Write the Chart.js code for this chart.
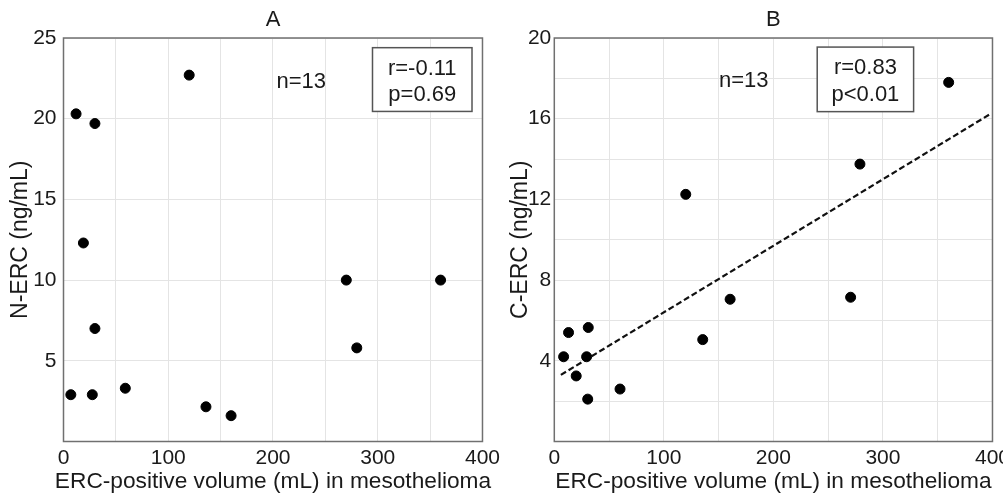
<!DOCTYPE html>
<html>
<head>
<meta charset="utf-8">
<script src="https://cdn.jsdelivr.net/npm/chart.js@4.4.1/dist/chart.umd.min.js"></script>
<style>
  html, body { margin: 0; padding: 0; background: #fff; overflow: hidden; }
  .panel { position: absolute; top: 0; height: 497px; }
  #panelA { left: 0; width: 504px; }
  #panelB { left: 500px; width: 514px; }
</style>
</head>
<body>
<div class="panel" id="panelA"><canvas id="chartA"></canvas></div>
<div class="panel" id="panelB"><canvas id="chartB"></canvas></div>
<script>
// Panel A: N-ERC vs ERC-positive volume
const volumeA = [7, 12, 19, 27.5, 30, 30, 59, 120, 136, 160, 270, 280, 360];
const nErc = [2.9, 20.3, 12.3, 2.9, 19.7, 7.0, 3.3, 22.7, 2.15, 1.6, 10.0, 5.8, 10.0];

// Panel B: C-ERC vs ERC-positive volume
const volumeB = [8.5, 13, 20, 29.5, 30.5, 31, 60, 120, 135.5, 160.5, 270.5, 279, 360];
const cErc = [4.2, 5.4, 3.25, 4.2, 2.1, 5.65, 2.6, 12.25, 5.05, 7.05, 7.15, 13.75, 17.8];

// fitted line endpoints
const fitX = [6, 397];
const fitY = [3.3, 16.2];

const xTicks = [0, 100, 200, 300, 400];
const yTicksA = [5, 10, 15, 20, 25];
const yTicksB = [4, 8, 12, 16, 20];
const xTitle = 'ERC-positive volume (mL) in mesothelioma';

const FONT = 'Liberation Sans, Arial, Helvetica, sans-serif';
Chart.defaults.font.family = FONT;
Chart.defaults.color = '#1a1a1a';

// box round the plot area
const frame = {
    id: 'frame',
    beforeDatasetsDraw(chart) {
        const { ctx, chartArea: a } = chart;
        ctx.save();
        ctx.strokeStyle = '#707070';
        ctx.lineWidth = 1.5;
        ctx.strokeRect(a.left, a.top, a.right - a.left, a.bottom - a.top);
        ctx.restore();
    }
};

// panel letter and x title, centred on the plot (Chart.js centres on the canvas / squeezes)
const panelText = {
    id: 'panelText',
    afterDraw(chart, args, opts) {
        const { ctx, chartArea: a } = chart;
        const cx = (a.left + a.right) / 2;
        ctx.save();
        ctx.fillStyle = '#1a1a1a';
        ctx.textAlign = 'center';
        ctx.textBaseline = 'alphabetic';
        ctx.font = '22px ' + FONT;
        ctx.fillText(opts.title, cx, a.top - 12);
        ctx.font = '22.7px ' + FONT;
        ctx.fillText(opts.xTitle, cx, a.bottom + 46);
        ctx.restore();
    }
};

// n= label and r/p box, placed in data coordinates
const notes = {
    id: 'notes',
    afterDatasetsDraw(chart, args, opts) {
        const { ctx } = chart;
        const xs = chart.scales.x, ys = chart.scales.y;
        ctx.save();
        ctx.font = '22px ' + FONT;
        ctx.fillStyle = '#1a1a1a';
        ctx.textAlign = 'center';
        ctx.textBaseline = 'middle';
        ctx.fillText(opts.n.text, xs.getPixelForValue(opts.n.x), ys.getPixelForValue(opts.n.y));

        const b = opts.box;
        const x0 = xs.getPixelForValue(b.x0), x1 = xs.getPixelForValue(b.x1);
        const y0 = ys.getPixelForValue(b.y0), y1 = ys.getPixelForValue(b.y1);
        ctx.strokeStyle = '#555';
        ctx.lineWidth = 1.5;
        ctx.fillStyle = '#fff';
        ctx.fillRect(x0, y0, x1 - x0, y1 - y0);
        ctx.strokeRect(x0, y0, x1 - x0, y1 - y0);
        ctx.fillStyle = '#1a1a1a';
        const cx = (x0 + x1) / 2;
        const h = y1 - y0;
        ctx.fillText(b.lines[0], cx, y0 + h * 0.33);
        ctx.fillText(b.lines[1], cx, y0 + h * 0.74);
        ctx.restore();
    }
};

function makeChart(id, cfg) {
    const pts = cfg.xs.map((x, i) => ({ x: x, y: cfg.ys[i] }));
    const datasets = [{
        type: 'scatter',
        data: pts,
        backgroundColor: '#000',
        borderColor: '#000',
        pointRadius: 5,
        pointHoverRadius: 5
    }];
    if (cfg.fit) {
        datasets.push({
            type: 'line',
            data: cfg.fit.x.map((x, i) => ({ x: x, y: cfg.fit.y[i] })),
            borderColor: '#111',
            borderWidth: 2.2,
            borderDash: [6, 3],
            pointRadius: 0,
            fill: false
        });
    }

    return new Chart(document.getElementById(id), {
        type: 'scatter',
        data: { datasets: datasets },
        options: {
            responsive: true,
            maintainAspectRatio: false,
            animation: false,
            layout: { padding: { top: 38, left: 0, right: 0, bottom: 0 } },
            plugins: {
                legend: { display: false },
                tooltip: { enabled: false },
                title: { display: false },
                notes: cfg.notes,
                panelText: { title: cfg.title, xTitle: xTitle }
            },
            scales: {
                x: {
                    type: 'linear',
                    min: 0,
                    max: 400,
                    afterFit: s => { s.height = 55.5; },
                    border: { display: false },
                    grid: { color: '#e4e4e4', lineWidth: 1, drawTicks: false },
                    ticks: {
                        stepSize: 50,
                        padding: 4,
                        font: { size: 21 },
                        color: '#1a1a1a',
                        maxRotation: 0,
                        autoSkip: false,
                        callback: v => xTicks.includes(v) ? String(v) : ''
                    }
                },
                y: {
                    type: 'linear',
                    min: 0,
                    max: cfg.yMax,
                    afterFit: s => { s.width = cfg.yAxisWidth; },
                    border: { display: false },
                    grid: { color: '#e4e4e4', lineWidth: 1, drawTicks: false },
                    ticks: {
                        stepSize: cfg.yStep,
                        padding: cfg.yTickPad,
                        font: { size: 21 },
                        color: '#1a1a1a',
                        autoSkip: false,
                        callback: v => cfg.yTicks.includes(v) ? String(v) : ''
                    },
                    title: {
                        display: true,
                        text: cfg.yTitle,
                        font: { size: 23 },
                        color: '#1a1a1a',
                        padding: { top: 7, bottom: 0 }
                    }
                }
            }
        },
        plugins: [frame, notes, panelText]
    });
}

makeChart('chartA', {
    title: 'A',
    xs: volumeA,
    ys: nErc,
    yMax: 25,
    yStep: 5,
    yTicks: yTicksA,
    yTitle: 'N-ERC (ng/mL)',
    yAxisWidth: 63.5,
    yTickPad: 7,
    notes: {
        n: { text: 'n=13', x: 227, y: 22.3 },
        box: { x0: 295, x1: 390, y0: 24.4, y1: 20.45, lines: ['r=-0.11', 'p=0.69'] }
    }
});

makeChart('chartB', {
    title: 'B',
    xs: volumeB,
    ys: cErc,
    fit: { x: fitX, y: fitY },
    yMax: 20,
    yStep: 2,
    yTicks: yTicksB,
    yTitle: 'C-ERC (ng/mL)',
    yAxisWidth: 54.3,
    yTickPad: 3,
    notes: {
        n: { text: 'n=13', x: 173, y: 17.85 },
        box: { x0: 240, x1: 328, y0: 19.55, y1: 16.35, lines: ['r=0.83', 'p<0.01'] }
    }
});
</script>
</body>
</html>
